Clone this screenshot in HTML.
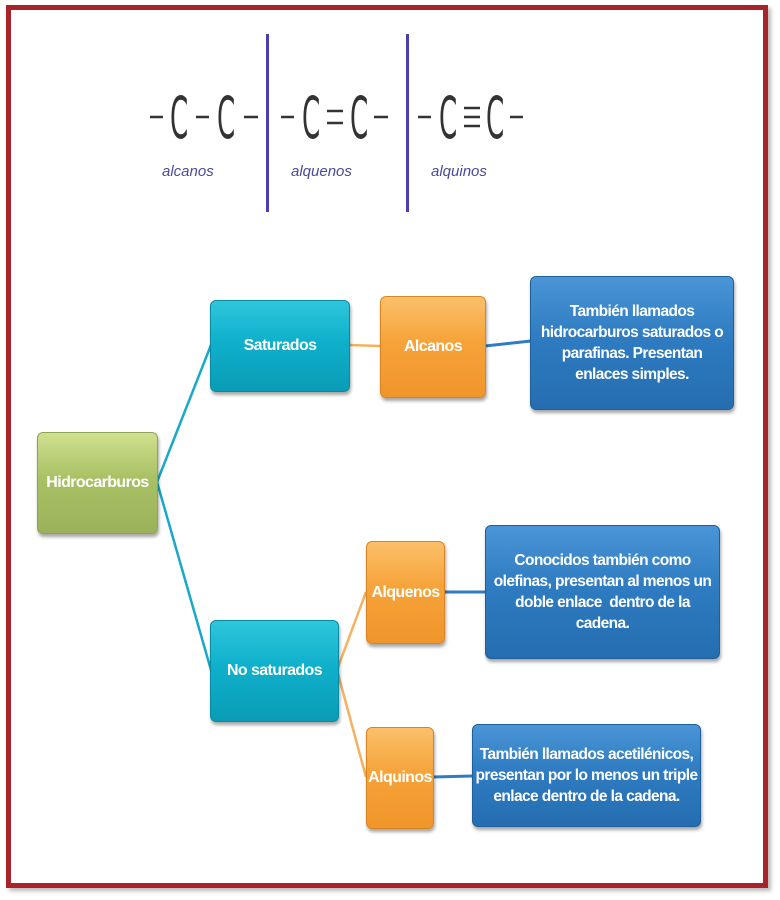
<!DOCTYPE html>
<html><head><meta charset="utf-8"><style>
html,body{margin:0;padding:0;background:#fff;}
body{width:780px;height:900px;position:relative;overflow:hidden;font-family:"Liberation Sans",sans-serif;}
.frame{position:absolute;left:6px;top:5px;width:752px;height:873px;border:5px solid #a8242a;box-shadow:3px 3px 4px #bbb;}
.b{position:absolute;border-radius:6px;color:#fff;font-weight:bold;display:flex;align-items:center;justify-content:center;text-align:center;box-shadow:1px 3px 3px rgba(0,0,0,.35);letter-spacing:-0.6px;font-size:16px;line-height:20px;}
.g{background:linear-gradient(#cfe08e,#a9c165 45%,#9bb25a);border:1px solid #8ea357;}
.c{background:linear-gradient(#2fc6dc,#0fb0cb 45%,#0a9cb6);border:1px solid #0a8aa2;}
.o{background:linear-gradient(#fbc06a,#f6a33a 45%,#f0952a);border:1px solid #d98423;}
.d{background:linear-gradient(#4a95d6,#2f7cc2 45%,#256db0);border:1px solid #1f5f9c;font-size:15.5px;line-height:21px;}
.lab{position:absolute;top:163px;font-size:15px;font-style:italic;color:#4a4a9a;}
.vl{position:absolute;top:34px;width:3px;height:178px;background:#4a3fb0;}
</style></head><body>
<div class="frame"></div>
<svg style="position:absolute;left:0;top:0" width="780" height="230">
<g stroke="#333" stroke-width="2.5">
<line x1="150" y1="117" x2="163" y2="117"/>
<line x1="196" y1="117" x2="209" y2="117"/>
<line x1="244" y1="117" x2="258" y2="117"/>
<line x1="281" y1="117" x2="294" y2="117"/>
<line x1="327" y1="111" x2="343" y2="111"/>
<line x1="327" y1="123" x2="343" y2="123"/>
<line x1="374" y1="117" x2="388" y2="117"/>
<line x1="418" y1="117" x2="431" y2="117"/>
<line x1="464" y1="108" x2="480" y2="108"/>
<line x1="464" y1="117" x2="480" y2="117"/>
<line x1="464" y1="126" x2="480" y2="126"/>
<line x1="510" y1="117" x2="523" y2="117"/>
</g>
<g font-family="DejaVu Sans, sans-serif" font-size="58" fill="#333">
<text transform="translate(170,138) scale(0.45,1)">C</text>
<text transform="translate(217,138) scale(0.45,1)">C</text>
<text transform="translate(302,138) scale(0.45,1)">C</text>
<text transform="translate(350,138) scale(0.45,1)">C</text>
<text transform="translate(439,138) scale(0.45,1)">C</text>
<text transform="translate(486,138) scale(0.45,1)">C</text>
</g>
</svg>
<div class="vl" style="left:266px"></div>
<div class="vl" style="left:406px"></div>
<div class="lab" style="left:162px">alcanos</div>
<div class="lab" style="left:291px">alquenos</div>
<div class="lab" style="left:431px">alquinos</div>
<svg style="position:absolute;left:0;top:0" width="780" height="900">
<g stroke="#1aa8c8" stroke-width="2.5" fill="none">
<line x1="157" y1="482" x2="211" y2="345"/>
<line x1="157" y1="482" x2="211" y2="670"/>
</g>
<g stroke="#f6b060" stroke-width="2.5" fill="none">
<line x1="349" y1="345" x2="380" y2="346"/>
<line x1="337" y1="670" x2="366" y2="592"/>
<line x1="337" y1="670" x2="366" y2="777"/>
</g>
<g stroke="#2f7cc2" stroke-width="3" fill="none">
<line x1="485" y1="346" x2="531" y2="341"/>
<line x1="444" y1="592" x2="486" y2="592"/>
<line x1="433" y1="777" x2="473" y2="776"/>
</g>
</svg>
<div class="b g" style="left:37px;top:432px;width:119px;height:100px">Hidrocarburos</div>
<div class="b c" style="left:210px;top:300px;width:138px;height:90px">Saturados</div>
<div class="b o" style="left:380px;top:296px;width:104px;height:100px">Alcanos</div>
<div class="b d" style="left:530px;top:276px;width:202px;height:132px">También llamados<br>hidrocarburos saturados o<br>parafinas. Presentan<br>enlaces simples.</div>
<div class="b c" style="left:210px;top:620px;width:127px;height:100px">No saturados</div>
<div class="b o" style="left:366px;top:541px;width:77px;height:101px">Alquenos</div>
<div class="b d" style="left:485px;top:525px;width:233px;height:132px">Conocidos también como<br>olefinas, presentan al menos un<br>doble enlace &nbsp;dentro de la<br>cadena.</div>
<div class="b o" style="left:366px;top:727px;width:66px;height:100px">Alquinos</div>
<div class="b d" style="left:472px;top:724px;width:227px;height:101px">También llamados acetilénicos,<br>presentan por lo menos un triple<br>enlace dentro de la cadena.</div>
</body></html>
